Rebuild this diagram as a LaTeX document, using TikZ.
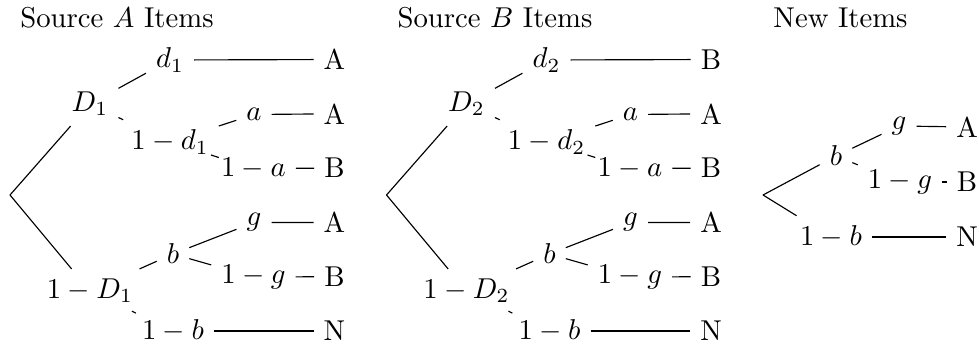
\documentclass[tikz,border=0pt]{standalone}
\newcommand\srctree[4]{%
\begin{scope}[shift={(#2,0)}]
\coordinate (#1r) at (10,195);
\node (#1D)  at (90,104)    {$D_#3$};
\node (#1nD) at (90,291)    {$1-D_#3$};
\node (#1d)  at (170,60)    {$d_#3$};
\node (#1nd) at (170,142)   {$1-d_#3$};
\node (#1a)  at (254,114.5) {$a$};
\node (#1na) at (253.5,168.5) {$1-a$};
\node (#1b)  at (173,254)   {$b$};
\node (#1nb) at (173,331)   {$1-b$};
\node (#1g)  at (254,222.5) {$g$};
\node (#1ng) at (253.5,277)   {$1-g$};
\node (#1L1) at (334.5,59.5)  {#4};
\node (#1L2) at (334.5,113.8) {A};
\node (#1L3) at (334.5,168.1) {B};
\node (#1L4) at (334.5,222.4) {A};
\node (#1L5) at (334.5,276.7) {B};
\node (#1L6) at (334.5,331)   {N};
\draw (#1r) -- (#1D);
\draw (#1r) -- (#1nD);
\draw (#1D) -- (#1d);
\draw (#1D) -- (#1nd);
\draw (#1nd) -- (#1a);
\draw (#1nd) -- (#1na);
\draw (#1nD) -- (#1b);
\draw (#1nD) -- (#1nb);
\draw (#1b) -- (#1g);
\draw (#1b) -- (#1ng);
\draw (#1d) -- (#1L1);
\draw (#1a) -- (#1L2);
\draw (#1na) -- (#1L3);
\draw (#1g) -- (#1L4);
\draw (#1ng) -- (#1L5);
\draw (#1nb) -- (#1L6);
\end{scope}}
\begin{document}
\begin{tikzpicture}[x=0.3484pt,y=-0.3484pt,
  every node/.style={inner sep=0.3333em},
  title/.style={anchor=base}]
\useasboundingbox (0,0) rectangle (979,345);
\node[title] (tA) at (117,27) {Source $A$ Items};
\node[title] (tB) at (495,27) {Source $B$ Items};
\node[title] (tC) at (840.5,27.5) {New Items};
\srctree{A}{0}{1}{A}
\srctree{B}{376.5}{2}{B}
% New items tree
\coordinate (Cr) at (763,195);
\node (Cb)  at (836,156) {$b$};
\node (Cnb) at (831,237) {$1-b$};
\node (Cg)  at (899,126) {$g$};
\node (Cng) at (900,182) {$1-g$};
\node (CL1) at (967,127) {A};
\node (CL2) at (967,182) {B};
\node (CL3) at (967,237) {N};
\draw (Cr) -- (Cb);
\draw (Cr) -- (Cnb);
\draw (Cb) -- (Cg);
\draw (Cb) -- (Cng);
\draw (Cg) -- (CL1);
\draw (Cng) -- (CL2);
\draw (Cnb) -- (CL3);
\end{tikzpicture}
\end{document}
